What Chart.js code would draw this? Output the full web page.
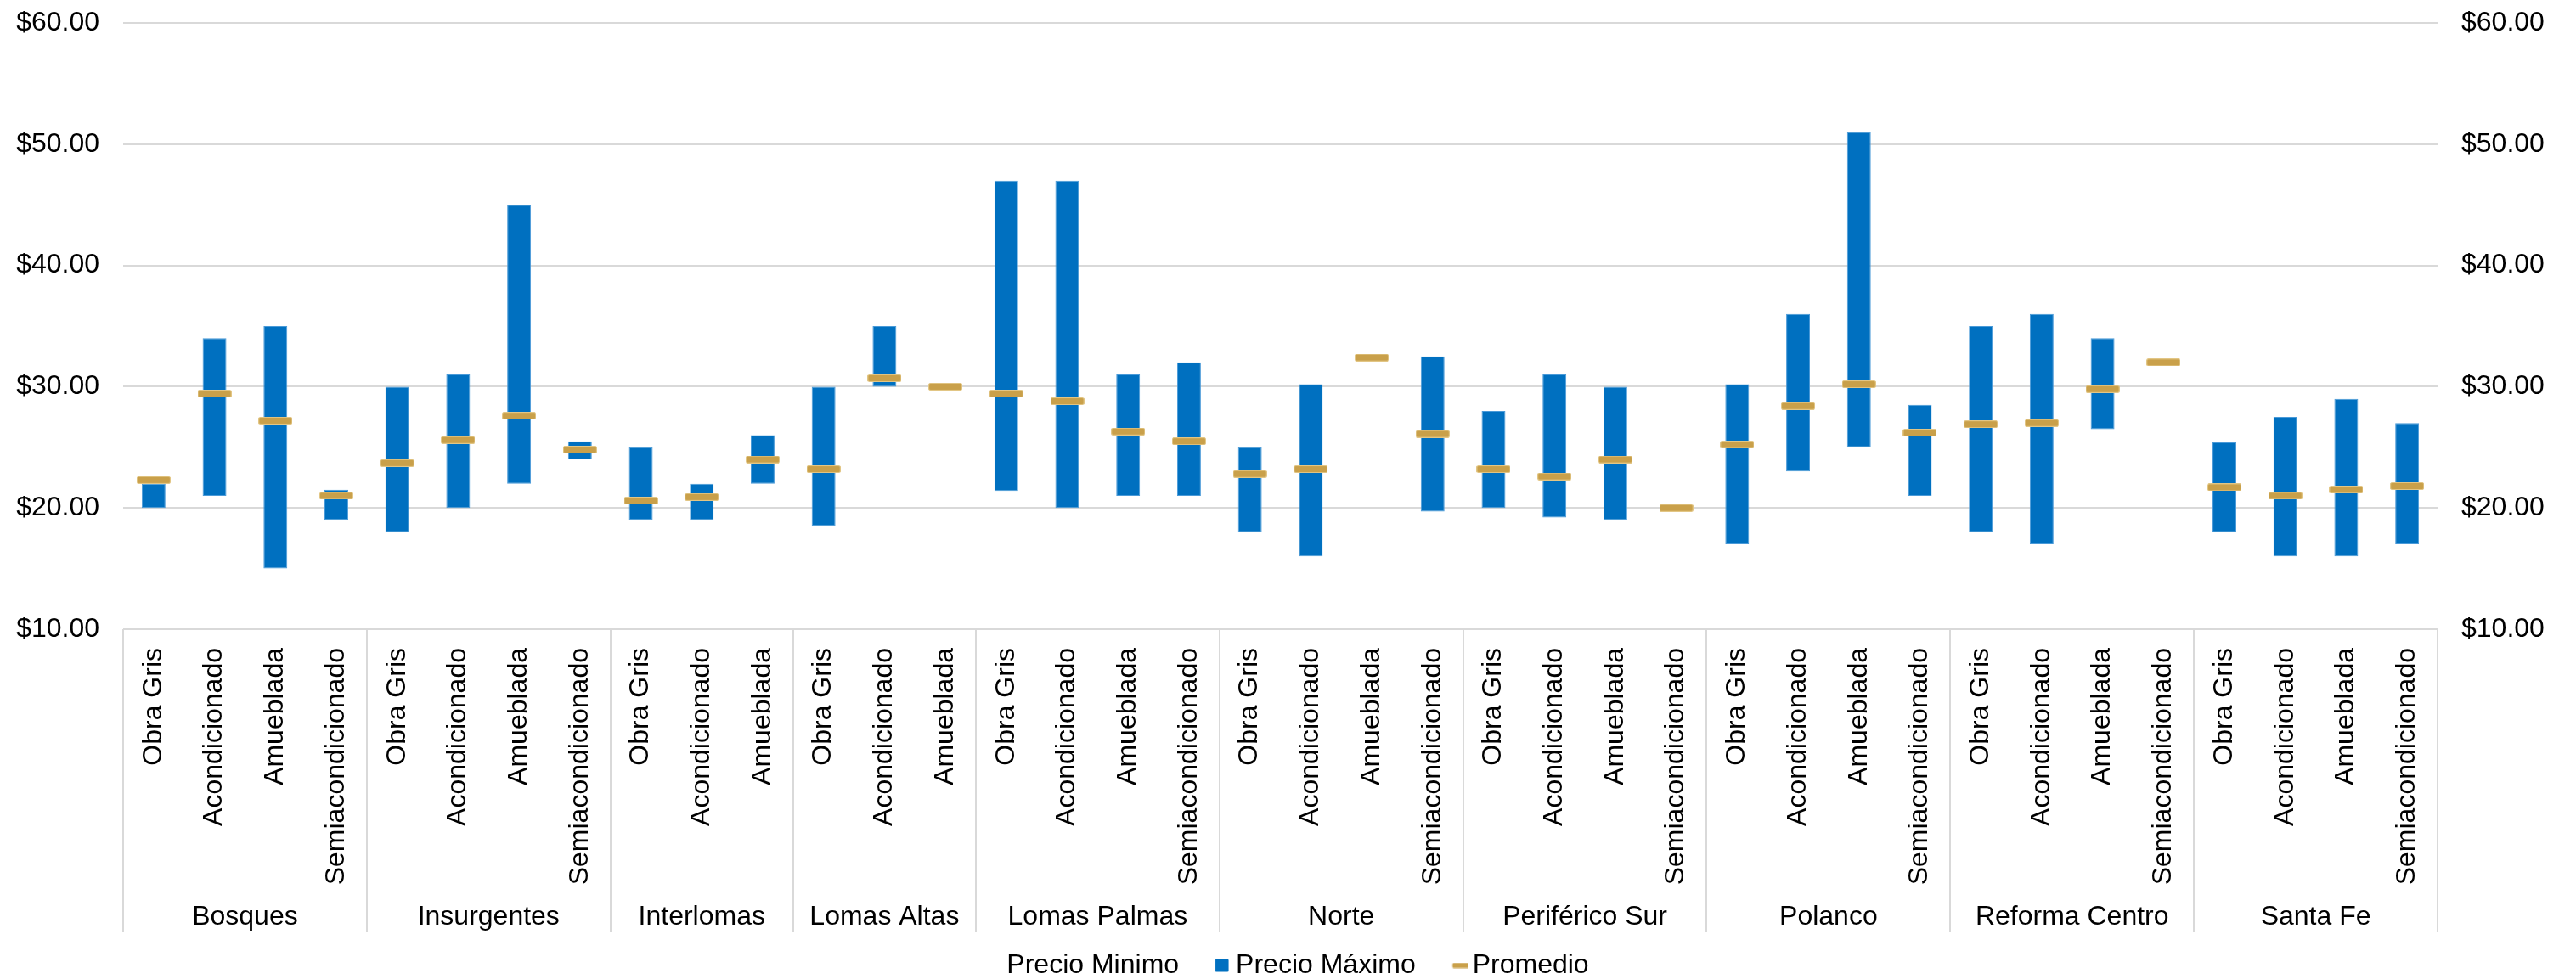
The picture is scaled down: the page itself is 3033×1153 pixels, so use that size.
<!DOCTYPE html>
<html lang="es">
<head>
<meta charset="utf-8">
<title>Precios por zona y tipo de acabado</title>
<script src="https://cdn.jsdelivr.net/npm/chart.js@4.4.1/dist/chart.umd.min.js"></script>
<style>
  html, body { margin: 0; padding: 0; background: #ffffff; }
  #wrap { position: relative; width: 3033px; height: 1153px; }
</style>
</head>
<body>
<div id="wrap"><canvas id="chart" width="3033" height="1153"></canvas></div>
<script>
// Zonas y número de tipos de acabado en cada una
const zonas = ['Bosques', 'Insurgentes', 'Interlomas', 'Lomas Altas', 'Lomas Palmas',
  'Norte', 'Periférico Sur', 'Polanco', 'Reforma Centro', 'Santa Fe'];
const tiposPorZona = [4, 4, 3, 3, 4, 4, 4, 4, 4, 4];

// Tipo de acabado de cada columna
const categorias = [
  'Obra Gris', 'Acondicionado', 'Amueblada', 'Semiacondicionado',
  'Obra Gris', 'Acondicionado', 'Amueblada', 'Semiacondicionado',
  'Obra Gris', 'Acondicionado', 'Amueblada',
  'Obra Gris', 'Acondicionado', 'Amueblada',
  'Obra Gris', 'Acondicionado', 'Amueblada', 'Semiacondicionado',
  'Obra Gris', 'Acondicionado', 'Amueblada', 'Semiacondicionado',
  'Obra Gris', 'Acondicionado', 'Amueblada', 'Semiacondicionado',
  'Obra Gris', 'Acondicionado', 'Amueblada', 'Semiacondicionado',
  'Obra Gris', 'Acondicionado', 'Amueblada', 'Semiacondicionado',
  'Obra Gris', 'Acondicionado', 'Amueblada', 'Semiacondicionado'
];

// Precios por m² (USD)
const precioMinimo = [
  20, 21, 15, 19,
  18, 20, 22, 24,
  19, 19, 22,
  18.5, 30, 30,
  21.4, 20, 21, 21,
  18, 16, 32.4, 19.7,
  20, 19.2, 19, 20,
  17, 23, 25, 21,
  18, 17, 26.5, 32,
  18, 16, 16, 17
];
const precioMaximo = [
  22, 34, 35, 21.5,
  30, 31, 45, 25.5,
  25, 22, 26,
  30, 35, 30,
  47, 47, 31, 32,
  25, 30.2, 32.4, 32.5,
  28, 31, 30, 20,
  30.2, 36, 51, 28.5,
  35, 36, 34, 32,
  25.4, 27.5, 29, 27
];
const promedio = [
  22.3, 29.4, 27.2, 21.0,
  23.7, 25.6, 27.6, 24.8,
  20.6, 20.9, 24.0,
  23.2, 30.7, 30.0,
  29.4, 28.8, 26.3, 25.5,
  22.8, 23.2, 32.4, 26.1,
  23.2, 22.6, 24.0, 20.0,
  25.2, 28.4, 30.2, 26.2,
  26.9, 27.0, 29.8, 32.0,
  21.7, 21.0, 21.5, 21.8
];

const AZUL = '#0070C0';
const DORADO = '#C9A04A';
const REJILLA = '#D9D9D9';
const FUENTE = "'Liberation Sans', Arial, Helvetica, sans-serif";

Chart.defaults.font.family = FUENTE;
Chart.defaults.font.size = 32;
Chart.defaults.color = '#000000';

// Marcador rectangular (dibujado en un lienzo pequeño)
function marcador(w, h, relleno, borde, anchoLienzo, xMarca) {
  const c = document.createElement('canvas');
  c.width = anchoLienzo || w;
  c.height = h;
  const g = c.getContext('2d');
  const x0 = xMarca || 0;
  g.fillStyle = relleno;
  g.beginPath();
  if (g.roundRect) g.roundRect(x0 + 0.5, 0.5, w - 1, h - 1, 1.5); else g.rect(x0 + 0.5, 0.5, w - 1, h - 1);
  g.fill();
  if (borde) { g.strokeStyle = borde; g.lineWidth = 1; g.stroke(); }
  return c;
}

const marcaPromedio = marcador(40, 9, DORADO, '#E2C685');

// Leyenda: caja de ancho fijo con la marca pegada al texto
const ANCHO_CAJA = 51;
const leyendaLienzo = ANCHO_CAJA + 16;
const leyendaMax = marcador(17, 16, AZUL, null, leyendaLienzo, leyendaLienzo - 17);
const leyendaProm = marcador(20, 7, DORADO, null, leyendaLienzo + 4, leyendaLienzo - 14);
const leyendaMin = marcador(1, 1, 'rgba(0,0,0,0)', null, leyendaLienzo, 0);

// Separadores y nombres de zona bajo el eje de categorías
const zonasPlugin = {
  id: 'zonasEje',
  afterLayout(chart) {
    // la leyenda queda un poco a la izquierda del centro
    if (chart.legend) {
      chart.legend.left -= 22;
      chart.legend.right -= 22;
    }
  },
  afterDraw(chart) {
    const x = chart.scales.x;
    const area = chart.chartArea;
    const ctx = chart.ctx;
    const yFin = 1098;
    const bordes = [area.left];
    let idx = 0;
    tiposPorZona.forEach((n) => {
      idx += n;
      if (idx < categorias.length) {
        bordes.push((x.getPixelForValue(idx - 1) + x.getPixelForValue(idx)) / 2);
      }
    });
    bordes.push(area.right);
    ctx.save();
    ctx.strokeStyle = REJILLA;
    ctx.lineWidth = 2;
    bordes.forEach((bx) => {
      const px = Math.round(bx);
      ctx.beginPath();
      ctx.moveTo(px, area.bottom);
      ctx.lineTo(px, yFin);
      ctx.stroke();
    });
    ctx.fillStyle = '#000000';
    ctx.font = '32px ' + FUENTE;
    ctx.textAlign = 'center';
    ctx.textBaseline = 'alphabetic';
    zonas.forEach((z, i) => {
      ctx.fillText(z, (bordes[i] + bordes[i + 1]) / 2, 1089);
    });
    ctx.restore();
  }
};

const dinero = (v) => '$' + Number(v).toFixed(2);

// Ejes verticales de ancho fijo, sin margen extra por las etiquetas
const ajusteVertical = (ancho) => (s) => {
  s.width = ancho;
  s.paddingTop = 0;
  s.paddingBottom = 0;
};

new Chart(document.getElementById('chart'), {
  type: 'bar',
  data: {
    labels: categorias,
    datasets: [
      {
        label: 'Precio Minimo',
        data: precioMinimo,
        backgroundColor: 'rgba(0,0,0,0)',
        borderWidth: 0,
        grouped: false,
        barPercentage: 0.39,
        categoryPercentage: 1,
        order: 2
      },
      {
        label: 'Precio Máximo',
        data: precioMinimo.map((m, i) => [m, precioMaximo[i]]),
        backgroundColor: AZUL,
        borderColor: '#4A9AD8',
        borderWidth: 1,
        borderSkipped: false,
        grouped: false,
        barPercentage: 0.39,
        categoryPercentage: 1,
        order: 1
      },
      {
        type: 'line',
        label: 'Promedio',
        data: promedio,
        showLine: false,
        pointStyle: marcaPromedio,
        pointRadius: 20,
        pointHoverRadius: 20,
        borderColor: DORADO,
        backgroundColor: DORADO,
        order: 0
      }
    ]
  },
  options: {
    responsive: false,
    animation: false,
    events: [],
    layout: { padding: { top: 27, left: 0, right: 0, bottom: -10 } },
    scales: {
      x: {
        offset: true,
        grid: { display: false, drawTicks: false },
        border: { display: false },
        ticks: {
          autoSkip: false,
          minRotation: 90,
          maxRotation: 90,
          padding: 22,
          color: '#000000',
          font: { size: 32 }
        },
        afterFit(s) { s.height = 380; s.paddingLeft = 0; s.paddingRight = 0; }
      },
      y: {
        position: 'left',
        min: 10,
        max: 60,
        grid: { color: REJILLA, lineWidth: 2, drawTicks: false },
        border: { display: false },
        ticks: { stepSize: 10, padding: 28, callback: dinero, color: '#000000', font: { size: 32 } },
        afterFit: ajusteVertical(145)
      },
      y2: {
        position: 'right',
        min: 10,
        max: 60,
        grid: { display: false, drawTicks: false },
        border: { display: false },
        ticks: { stepSize: 10, padding: 28, callback: dinero, color: '#000000', font: { size: 32 } },
        afterFit: ajusteVertical(163)
      }
    },
    plugins: {
      tooltip: { enabled: false },
      legend: {
        position: 'bottom',
        labels: {
          usePointStyle: true,
          pointStyleWidth: ANCHO_CAJA,
          padding: 0,
          color: '#000000',
          font: { size: 32 },
          generateLabels() {
            const marcas = [leyendaMin, leyendaMax, leyendaProm];
            const nombres = ['Precio Minimo', 'Precio Máximo', 'Promedio'];
            return nombres.map((t, i) => ({
              text: t,
              pointStyle: marcas[i],
              fillStyle: 'rgba(0,0,0,0)',
              strokeStyle: 'rgba(0,0,0,0)',
              lineWidth: 0,
              hidden: false,
              datasetIndex: i,
              fontColor: '#000000'
            }));
          }
        }
      }
    }
  },
  plugins: [zonasPlugin]
});
</script>
</body>
</html>
